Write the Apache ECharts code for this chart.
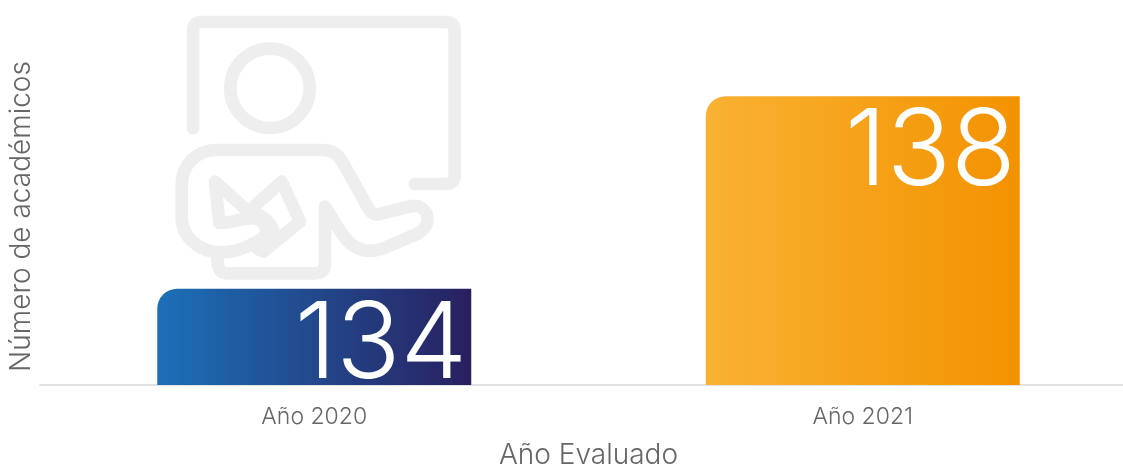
<!DOCTYPE html>
<html><head><meta charset="utf-8">
<style>html,body{margin:0;padding:0;background:#fff}#c{width:1123px;height:464px}</style>
<script src="https://cdn.jsdelivr.net/npm/echarts@6/dist/echarts.min.js"></script>
</head><body><div id="c"></div>
<script>
const categories = ['Año 2020', 'Año 2021'];
const values = [134, 138];
const gradients = [['#1c70b8', '#28205f'], ['#f9b233', '#f39200']];
const xName = 'Año Evaluado';
const yName = 'Número de académicos';
const FONT = 'Inter, "Open Sans", sans-serif';
const iconPaths = [
 'M99 385 L99 92 Q99 66 125 66 L858 66 Q884 66 884 92 L884 526 Q884 552 858 552 L765 552',
 'M330 146 A119 119 0 1 1 329.9 146 Z',
 'M178 668 C215 672 250 650 285 655 C320 665 335 705 290 725 C255 745 220 757 185 757 C115 757 65 710 65 650 L65 555 C65 495 110 450 170 450 L490 450 C515 450 535 462 548 487 L618 612 C630 640 645 648 665 640 L755 618 C800 610 825 670 775 700 L670 745 C615 765 575 745 545 700 L495 620 L495 790 Q495 820 465 820 L200 820 Q172 820 172 775',
 'M178 668 L165 545 L265 635 L365 545 L420 665 L310 755 L290 745',
 'M265 635 C295 640 325 655 340 690'
];
const chart = echarts.init(document.getElementById('c'), null, {renderer:'canvas'});
chart.setOption({
  animation:false,
  backgroundColor:'#ffffff',
  grid:{left:40, top:0, width:1097, height:385, containLabel:false, outerBoundsMode:'none'},
  xAxis:{type:'category', data:categories,
    axisLine:{lineStyle:{color:'#d9d9d9', width:1.5}}, axisTick:{show:false},
    axisLabel:{color:'#666666', fontFamily:FONT, fontWeight:300, fontSize:23, margin:21},
    name:xName, nameLocation:'middle', nameGap:57,
    nameTextStyle:{color:'#666666', fontFamily:FONT, fontWeight:300, fontSize:28}},
  yAxis:{type:'value', min:132, max:140, offset:18,
    axisLine:{show:false}, axisTick:{show:false}, axisLabel:{show:false}, splitLine:{show:false},
    name:yName, nameLocation:'start', nameGap:-13, nameRotate:90, nameMoveOverlap:false,
    nameTextStyle:{color:'#666666', fontFamily:FONT, fontWeight:300, fontSize:28, align:'left', verticalAlign:'middle'}},
  series:[
  {type:'custom', coordinateSystem:'none', z:0, silent:true, data:[0],
    renderItem:()=>({type:'group', children:iconPaths.map(d=>({
      type:'path', x:160, y:0, scaleX:1/3, scaleY:1/3,
      shape:{pathData:d},
      style:{fill:'none', stroke:'#eeeeee', lineWidth:38, lineCap:'round', lineJoin:'round'}
    }))})
  },
  {type:'bar', barWidth:314, z:5,
    data:values.map((v,i)=>({value:v,itemStyle:{borderRadius:[20,0,0,0],color:new echarts.graphic.LinearGradient(0,0,1,0,[{offset:0,color:gradients[i][0]},{offset:1,color:gradients[i][1]}])}})),
    label:{show:true, position:'insideTopRight', distance:0, offset:[-4,4], color:'#ffffff', fontFamily:FONT, fontWeight:300, fontSize:106, lineHeight:106}
  }]
});
</script></body></html>
